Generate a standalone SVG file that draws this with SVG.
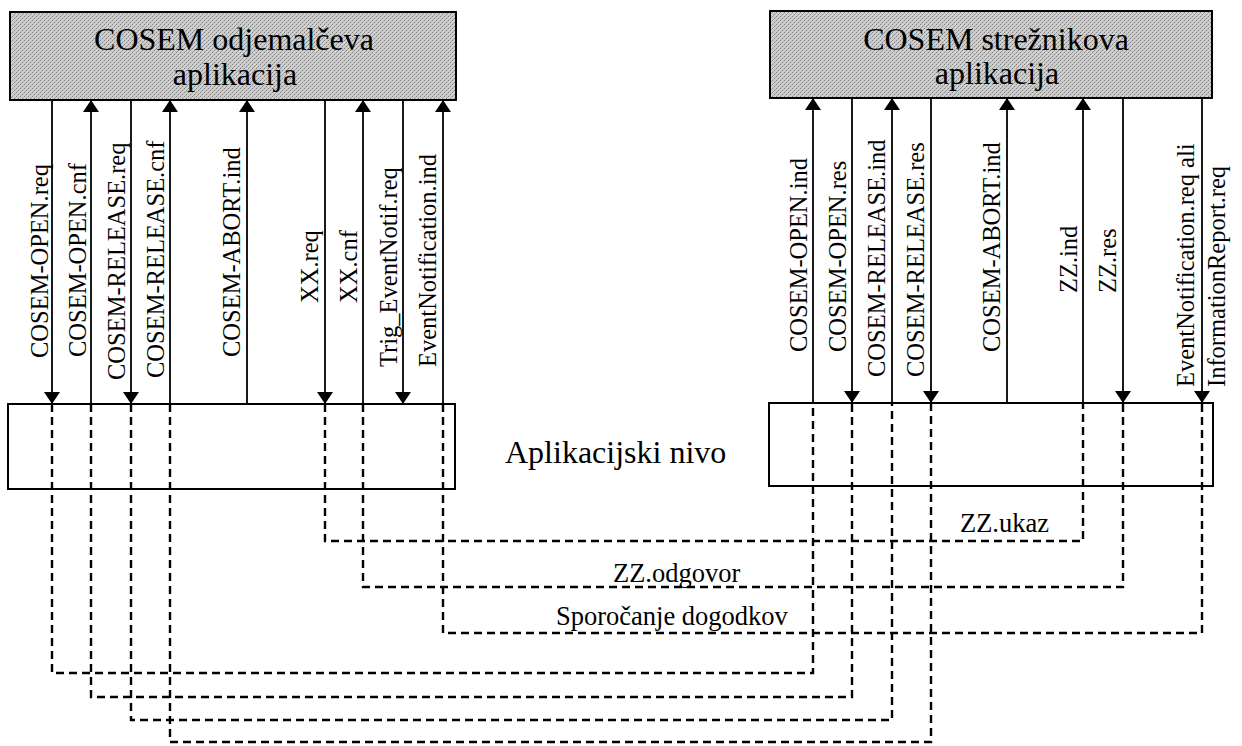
<svg xmlns="http://www.w3.org/2000/svg" width="1242" height="746" viewBox="0 0 1242 746">
  <defs>
    <!-- halftone-like grey fill for the application boxes -->
    <pattern id="halftone" width="4" height="4" patternUnits="userSpaceOnUse">
      <rect width="4" height="4" fill="#cfcfcf"/>
      <rect x="0" y="0" width="1" height="1" fill="#7f7f7f"/>
      <rect x="2" y="2" width="1" height="1" fill="#7f7f7f"/>
      <rect x="3" y="1" width="1" height="1" fill="#a8a8a8"/>
      <rect x="1" y="3" width="1" height="1" fill="#a8a8a8"/>
    </pattern>
    <marker id="arrow" viewBox="0 0 12 16" refX="12" refY="8" markerWidth="12" markerHeight="16" markerUnits="userSpaceOnUse" orient="auto">
      <path d="M0,0 L12,8 L0,16 Z" fill="#000"/>
    </marker>
  </defs>
  <style>
    .app { fill: url(#halftone); stroke: #000; stroke-width: 2; }
    .layer { fill: #fff; stroke: #000; stroke-width: 2; }
    .title { font-family: "Liberation Serif", "Times New Roman", serif; font-size: 32px; fill: #000; text-anchor: middle; }
    .prim { stroke: #000; stroke-width: 1.8; fill: none; marker-end: url(#arrow); }
    .vlabel { font-family: "Liberation Serif", "Times New Roman", serif; font-size: 24.5px; fill: #000; }
    .dash { stroke: #000; stroke-width: 2.4; fill: none; stroke-dasharray: 8 5; }
    .hlabel { font-family: "Liberation Serif", "Times New Roman", serif; font-size: 26.5px; fill: #000; }
    .level { font-family: "Liberation Serif", "Times New Roman", serif; font-size: 32px; fill: #000; }
  </style>

  <rect width="1242" height="746" fill="#fff"/>

  <!-- application process boxes -->
  <g id="client-app">
    <rect class="app" x="10" y="12" width="446" height="88"/>
    <text class="title" x="234" y="50">COSEM odjemalčeva</text>
    <text class="title" x="235" y="85">aplikacija</text>
  </g>
  <g id="server-app">
    <rect class="app" x="770" y="11" width="442" height="87"/>
    <text class="title" x="996" y="50">COSEM strežnikova</text>
    <text class="title" x="997" y="84">aplikacija</text>
  </g>

  <!-- application layer boxes -->
  <g id="client-al">
    <rect class="layer" x="8" y="404" width="447" height="85"/>
  </g>
  <g id="server-al">
    <rect class="layer" x="769" y="403" width="444" height="83"/>
  </g>
  <g id="layer-name">
    <text class="level" x="505" y="463">Aplikacijski nivo</text>
  </g>

  <!-- service primitives and dashed protocol flows -->
  <g id="connectors">
    <!-- client side primitives -->
    <g id="client-primitives">
      <line class="prim" x1="52" y1="100" x2="52" y2="404"/>
      <line class="prim" x1="91" y1="404" x2="91" y2="100"/>
      <line class="prim" x1="131" y1="100" x2="131" y2="404"/>
      <line class="prim" x1="170" y1="404" x2="170" y2="100"/>
      <line class="prim" x1="247" y1="404" x2="247" y2="100"/>
      <line class="prim" x1="325" y1="100" x2="325" y2="404"/>
      <line class="prim" x1="363" y1="404" x2="363" y2="100"/>
      <line class="prim" x1="403" y1="100" x2="403" y2="404"/>
      <line class="prim" x1="443" y1="404" x2="443" y2="100"/>

      <text class="vlabel" transform="translate(48,358) rotate(-90)">COSEM-OPEN.req</text>
      <text class="vlabel" transform="translate(86,357) rotate(-90)">COSEM-OPEN.cnf</text>
      <text class="vlabel" transform="translate(125,380) rotate(-90)">COSEM-RELEASE.req</text>
      <text class="vlabel" transform="translate(164,378) rotate(-90)">COSEM-RELEASE.cnf</text>
      <text class="vlabel" transform="translate(240,357) rotate(-90)">COSEM-ABORT.ind</text>
      <text class="vlabel" transform="translate(318,303) rotate(-90)">XX.req</text>
      <text class="vlabel" transform="translate(357,303) rotate(-90)">XX.cnf</text>
      <text class="vlabel" transform="translate(397,367) rotate(-90)">Trig_EventNotif.req</text>
      <text class="vlabel" transform="translate(436,367) rotate(-90)">EventNotification.ind</text>
    </g>

    <!-- server side primitives -->
    <g id="server-primitives">
      <line class="prim" x1="813" y1="403" x2="813" y2="98"/>
      <line class="prim" x1="852" y1="98" x2="852" y2="403"/>
      <line class="prim" x1="892" y1="403" x2="892" y2="98"/>
      <line class="prim" x1="931" y1="98" x2="931" y2="403"/>
      <line class="prim" x1="1007" y1="403" x2="1007" y2="98"/>
      <line class="prim" x1="1083" y1="403" x2="1083" y2="98"/>
      <line class="prim" x1="1123" y1="98" x2="1123" y2="403"/>
      <line class="prim" x1="1202" y1="98" x2="1202" y2="403"/>

      <text class="vlabel" transform="translate(807,352) rotate(-90)">COSEM-OPEN.ind</text>
      <text class="vlabel" transform="translate(846,352) rotate(-90)">COSEM-OPEN.res</text>
      <text class="vlabel" transform="translate(885,377) rotate(-90)">COSEM-RELEASE.ind</text>
      <text class="vlabel" transform="translate(924,377) rotate(-90)">COSEM-RELEASE.res</text>
      <text class="vlabel" transform="translate(1000,352) rotate(-90)">COSEM-ABORT.ind</text>
      <text class="vlabel" transform="translate(1077,293) rotate(-90)">ZZ.ind</text>
      <text class="vlabel" transform="translate(1116,293) rotate(-90)">ZZ.res</text>
      <text class="vlabel" transform="translate(1194,387) rotate(-90)">EventNotification.req ali</text>
      <text class="vlabel" transform="translate(1225,387) rotate(-90)">InformationReport.req</text>
    </g>

    <!-- peer-to-peer flows through the application layer -->
    <g id="flows">
      <path class="dash" d="M325,404 V541 H1083 V403"/>
      <path class="dash" d="M363,404 V587 H1123 V403"/>
      <path class="dash" d="M443,404 V633 H1202 V403"/>
      <path class="dash" d="M52,404 V673 H813 V403"/>
      <path class="dash" d="M91,404 V697 H852 V403"/>
      <path class="dash" d="M131,404 V720 H892 V403"/>
      <path class="dash" d="M170,404 V742 H931 V403"/>

      <text class="hlabel" x="960" y="532">ZZ.ukaz</text>
      <text class="hlabel" x="613" y="582">ZZ.odgovor</text>
      <text class="hlabel" x="556" y="625">Sporočanje dogodkov</text>
    </g>
  </g>
</svg>
